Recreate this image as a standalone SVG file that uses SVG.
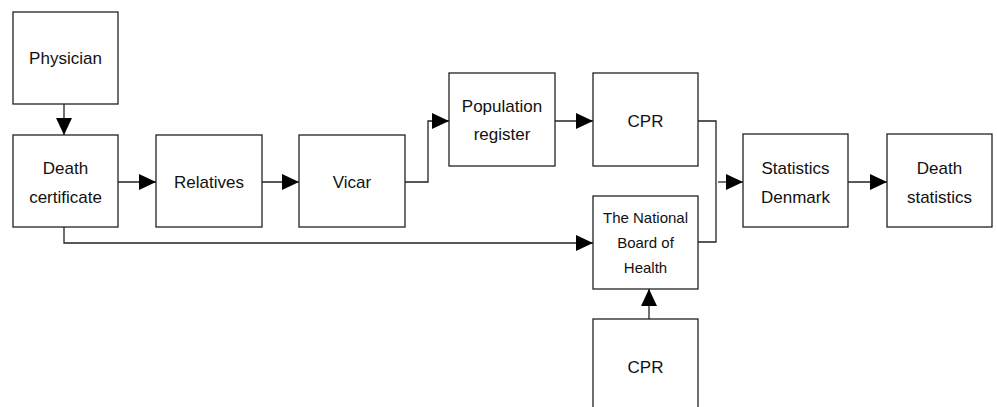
<svg xmlns="http://www.w3.org/2000/svg" width="997" height="407" viewBox="0 0 997 407">
<style>
.box{fill:#fff;stroke:#222;stroke-width:1.3}
.lbl{font-family:"Liberation Sans",Arial,sans-serif;font-size:17px;fill:#111;text-anchor:middle}
.sm{font-size:15px}
.con{fill:none;stroke:#222;stroke-width:1.3}
</style>
<defs>
<marker id="arr" viewBox="0 0 17 16" refX="17" refY="8" markerWidth="17" markerHeight="16" markerUnits="userSpaceOnUse" orient="auto">
<path d="M0,0 L17,8 L0,16 Z" fill="#000"/>
</marker>
</defs>
<rect width="997" height="407" fill="#fff"/>
<g id="connectors">
<path class="con" d="M64,104 V135" marker-end="url(#arr)"/>
<path class="con" d="M118,182 H156" marker-end="url(#arr)"/>
<path class="con" d="M262,182 H299" marker-end="url(#arr)"/>
<path class="con" d="M405,182 H428 V121 H449" marker-end="url(#arr)"/>
<path class="con" d="M555,121 H593" marker-end="url(#arr)"/>
<path class="con" d="M64,227 V243 H593" marker-end="url(#arr)"/>
<path class="con" d="M698,121 H716 V242 H698"/>
<path class="con" d="M718,182 H743" marker-end="url(#arr)"/>
<path class="con" d="M848,182 H887" marker-end="url(#arr)"/>
<path class="con" d="M649,319 V289" marker-end="url(#arr)"/>
</g>
<g id="physician"><rect class="box" x="13" y="12" width="105" height="92"/><text class="lbl" x="65.5" y="64">Physician</text></g>
<g id="death-certificate"><rect class="box" x="13" y="135" width="105" height="92"/><text class="lbl" x="65.5" y="174">Death</text><text class="lbl" x="65.5" y="203">certificate</text></g>
<g id="relatives"><rect class="box" x="156" y="135" width="106" height="92"/><text class="lbl" x="209" y="188">Relatives</text></g>
<g id="vicar"><rect class="box" x="299" y="135" width="106" height="92"/><text class="lbl" x="352" y="188">Vicar</text></g>
<g id="population-register"><rect class="box" x="449" y="73" width="106" height="93"/><text class="lbl" x="502" y="112">Population</text><text class="lbl" x="502" y="140">register</text></g>
<g id="cpr-top"><rect class="box" x="593" y="73" width="105" height="93"/><text class="lbl" x="645.5" y="127">CPR</text></g>
<g id="national-board"><rect class="box" x="593" y="196" width="105" height="93"/><text class="lbl sm" x="645.5" y="223">The National</text><text class="lbl sm" x="645.5" y="248">Board of</text><text class="lbl sm" x="645.5" y="273">Health</text></g>
<g id="cpr-bottom"><rect class="box" x="593" y="319" width="105" height="100"/><text class="lbl" x="645.5" y="373">CPR</text></g>
<g id="statistics-denmark"><rect class="box" x="743" y="134" width="105" height="93"/><text class="lbl" x="795.5" y="174">Statistics</text><text class="lbl" x="795.5" y="203">Denmark</text></g>
<g id="death-statistics"><rect class="box" x="887" y="134" width="105" height="93"/><text class="lbl" x="939.5" y="174">Death</text><text class="lbl" x="939.5" y="203">statistics</text></g>
</svg>
